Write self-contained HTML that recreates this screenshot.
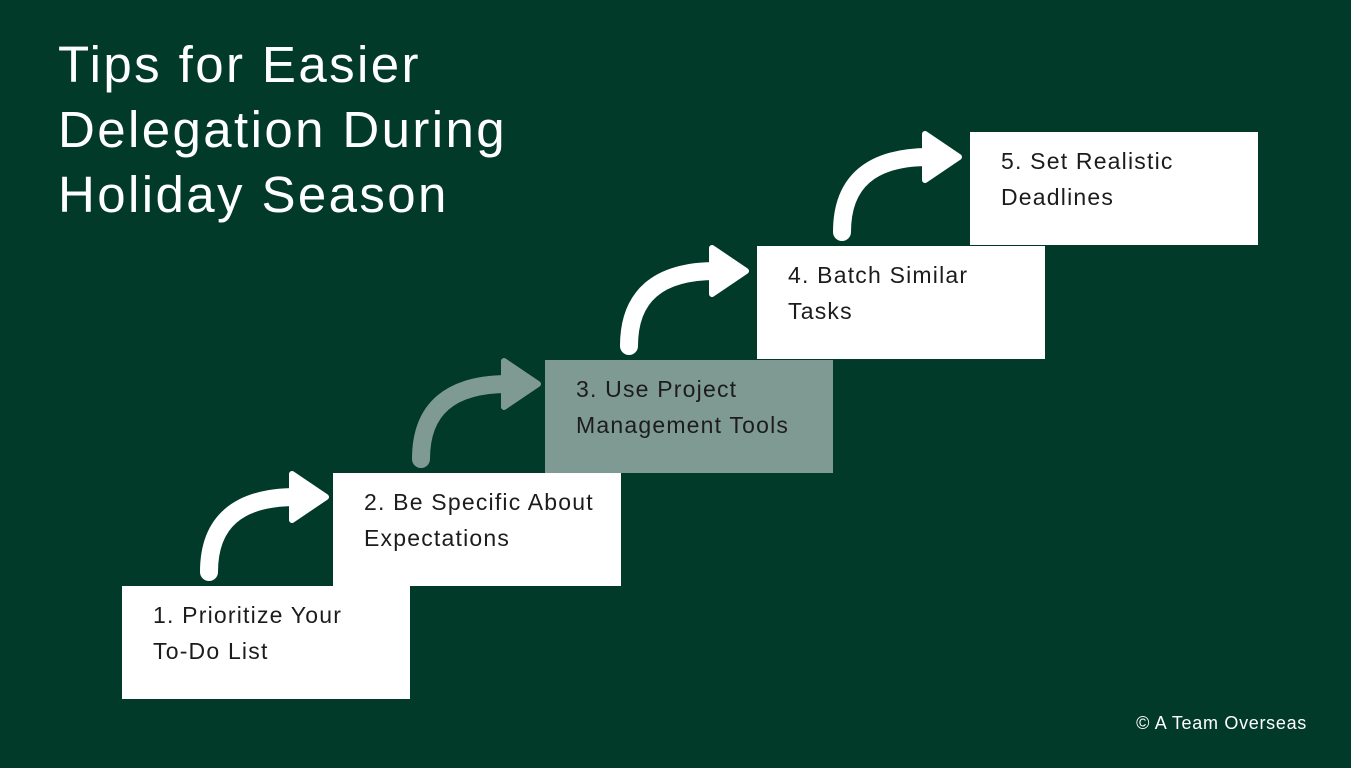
<!DOCTYPE html>
<html><head><meta charset="utf-8"><style>
body{margin:0;width:1351px;height:768px;background:#023a29;overflow:hidden;font-family:"Liberation Sans",sans-serif;position:relative}
.t{position:absolute;left:58px;top:32px;color:#fff;font-size:51px;line-height:65px;letter-spacing:2.4px}
.b{position:absolute;width:288px;height:113px;background:#fff;box-sizing:border-box;padding:11px 0 0 31px;font-size:23px;line-height:36px;color:#1c1c1c;letter-spacing:1.2px}
.c{position:absolute;right:44px;top:713px;color:#fff;font-size:18px;letter-spacing:0.7px}
svg{position:absolute;left:0;top:0}
</style></head><body>
<div class="t">Tips for Easier<br>Delegation During<br>Holiday Season</div>
<div class="b" style="left:122px;top:586px">1. Prioritize Your<br>To-Do List</div>
<div class="b" style="left:333px;top:473px">2. Be Specific About<br>Expectations</div>
<div class="b" style="left:545px;top:360px;background:#7f9a92">3. Use Project<br>Management Tools</div>
<div class="b" style="left:757px;top:246px">4. Batch Similar<br>Tasks</div>
<div class="b" style="left:970px;top:132px">5. Set Realistic<br>Deadlines</div>
<svg width="1351" height="768">
<defs><g id="a"><path d="M209,572 C209,522 238,497 296,497" fill="none" stroke-width="18" stroke-linecap="round"/><polygon points="292,474 326,497 292,520" stroke-width="6" stroke-linejoin="round"/></g></defs>
<use href="#a" fill="#fff" stroke="#fff"/>
<use href="#a" fill="#7f9a92" stroke="#7f9a92" transform="translate(212,-113)"/>
<use href="#a" fill="#fff" stroke="#fff" transform="translate(420,-226)"/>
<use href="#a" fill="#fff" stroke="#fff" transform="translate(633,-340)"/>
</svg>
<div class="c">© A Team Overseas</div>
</body></html>
